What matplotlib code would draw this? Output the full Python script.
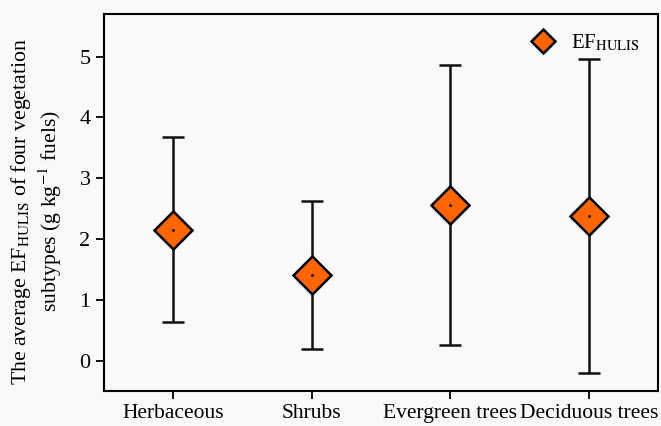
import matplotlib
matplotlib.use("Agg")
import matplotlib.pyplot as plt
import numpy as np

plt.rcParams['font.family'] = ['Liberation Serif', 'DejaVu Serif']
plt.rcParams['mathtext.fontset'] = 'stix'

# 資料
categories = ["Herbaceous", "Shrubs", "Evergreen trees", "Deciduous trees"]
ef_mean = [2.15, 1.41, 2.56, 2.38]
ef_err = [1.52, 1.22, 2.30, 2.58]
yticks = [0, 1, 2, 3, 4, 5]

fig = plt.figure(figsize=(6.61, 4.26), dpi=100)
fig.patch.set_facecolor("#f9f9f9")
ax = fig.add_axes([0.157, 0.082, 0.8385, 0.885])
ax.set_facecolor("#f9f9f9")

x = np.arange(1, len(categories) + 1)
ax.errorbar(x, ef_mean, yerr=ef_err, fmt="none", ecolor="#111111",
            elinewidth=1.8, capsize=8, capthick=1.8, zorder=2)
ax.plot(x, ef_mean, linestyle="none", marker="D", markersize=19,
        markerfacecolor="#ff6600", markeredgecolor="black",
        markeredgewidth=1.8, label=r"EF$_{\mathrm{HULIS}}$", zorder=3)
# 中心小點
ax.plot(x, ef_mean, linestyle="none", marker=".", markersize=2,
        color="black", zorder=4)

ax.set_xlim(0.5, 4.5)
ax.set_ylim(-0.5, 5.7)
ax.set_xticks(x)
ax.set_xticklabels(categories)
ax.set_yticks(yticks)
ax.tick_params(direction="out", length=6, width=1.3, labelsize=16)
ax.tick_params(axis="x", labelsize=15.5)
for s in ax.spines.values():
    s.set_linewidth(1.5)

ax.set_ylabel("The average EF$_{\\mathrm{HULIS}}$ of four vegetation\n"
              "subtypes (g kg$^{-1}$ fuels)", fontsize=15.7, linespacing=1.15)
ax.yaxis.set_label_coords(-0.072, 0.477)

ax.legend(loc="upper right", frameon=False, fontsize=15, handletextpad=0.3,
          markerscale=0.65, borderaxespad=0.5)

fig.savefig("out.png", dpi=100, facecolor=fig.get_facecolor())
